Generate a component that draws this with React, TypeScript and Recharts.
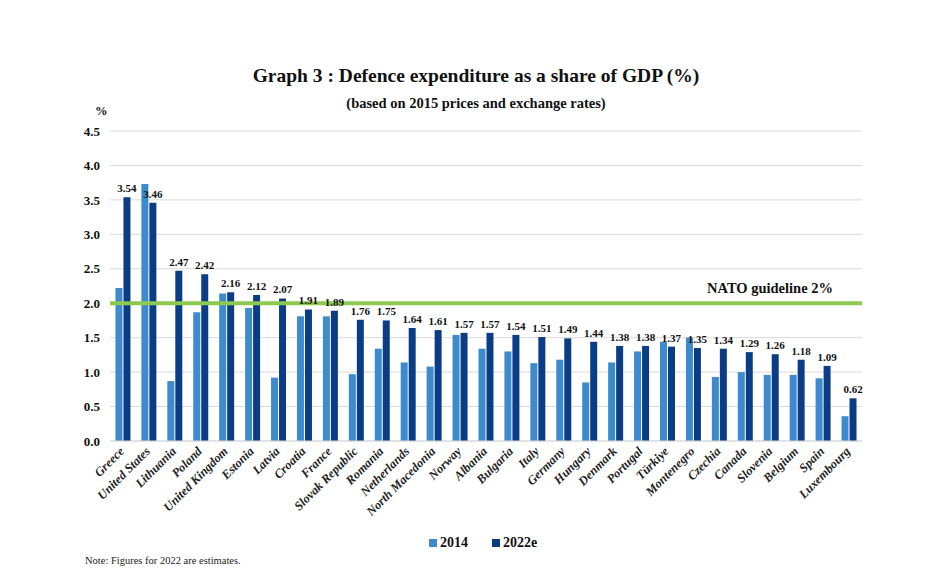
import React from "react"
import { BarChart, Bar, XAxis, YAxis, CartesianGrid, ReferenceLine, LabelList } from "recharts"

const countries = [
  "Greece", "United States", "Lithuania", "Poland", "United Kingdom", "Estonia", "Latvia",
  "Croatia", "France", "Slovak Republic", "Romania", "Netherlands", "North Macedonia", "Norway",
  "Albania", "Bulgaria", "Italy", "Germany", "Hungary", "Denmark", "Portugal", "Türkiye",
  "Montenegro", "Czechia", "Canada", "Slovenia", "Belgium", "Spain", "Luxembourg",
]

const values2014 = [
  2.22, 3.73, 0.87, 1.87, 2.14, 1.93, 0.92, 1.81, 1.81, 0.97, 1.34, 1.14, 1.08, 1.54,
  1.34, 1.30, 1.13, 1.18, 0.85, 1.14, 1.30, 1.44, 1.50, 0.93, 1.00, 0.96, 0.96, 0.91, 0.36,
]

const values2022 = [
  3.54, 3.46, 2.47, 2.42, 2.16, 2.12, 2.07, 1.91, 1.89, 1.76, 1.75, 1.64, 1.61, 1.57,
  1.57, 1.54, 1.51, 1.49, 1.44, 1.38, 1.38, 1.37, 1.35, 1.34, 1.29, 1.26, 1.18, 1.09, 0.62,
]

const yTicks = [0, 0.5, 1, 1.5, 2, 2.5, 3, 3.5, 4, 4.5]

const data = countries.map((name, i) => ({ name, y2014: values2014[i], y2022: values2022[i] }))

const serif = "'Liberation Serif', 'DejaVu Serif', serif"
const light = "#3d8bcd"
const dark = "#0b3d86"

function CountryTick({ x, y, payload }: any) {
  return (
    <text
      x={x + 2}
      y={y + 3}
      transform={`rotate(-45 ${x + 2} ${y + 3})`}
      textAnchor="end"
      fontFamily={serif}
      fontSize={12.5}
      fontStyle="italic"
      fontWeight="bold"
      fill="#222"
    >
      {payload.value}
    </text>
  )
}

function NatoLabel(props: any) {
  const vb = props.viewBox
  return (
    <text
      x={vb.x + vb.width - 29}
      y={vb.y - 10}
      textAnchor="end"
      fontFamily={serif}
      fontSize={14.5}
      fontWeight="bold"
      fill="#111"
    >
      NATO guideline 2%
    </text>
  )
}

export default function App() {
  return (
    <div style={{ position: "absolute", left: 0, top: 0, width: 952, height: 576, background: "#fff", fontFamily: serif }}>
      <div style={{ position: "absolute", top: 65, left: 0, width: 952, textAlign: "center", fontSize: 19.5, fontWeight: "bold", color: "#111" }}>
        Graph 3 : Defence expenditure as a share of GDP (%)
      </div>
      <div style={{ position: "absolute", top: 95, left: 0, width: 952, textAlign: "center", fontSize: 14.5, fontWeight: "bold", color: "#111" }}>
        (based on 2015 prices and exchange rates)
      </div>
      <div style={{ position: "absolute", top: 104, left: 95, fontSize: 12.5, fontWeight: "bold", color: "#111" }}>%</div>
      <div style={{ position: "absolute", top: 535, left: 0, width: 952, display: "flex", justifyContent: "center", gap: 24, fontSize: 14, fontWeight: "bold", color: "#111", paddingLeft: 14, boxSizing: "border-box" }}>
        <span style={{ display: "flex", alignItems: "center", gap: 3 }}>
          <span style={{ width: 8, height: 8, background: light, display: "inline-block" }} />
          2014
        </span>
        <span style={{ display: "flex", alignItems: "center", gap: 3 }}>
          <span style={{ width: 8, height: 8, background: dark, display: "inline-block" }} />
          2022e
        </span>
      </div>
      <div style={{ position: "absolute", top: 555, left: 85, fontSize: 10.5, color: "#222" }}>
        Note: Figures for 2022 are estimates.
      </div>
      <BarChart
        width={952}
        height={576}
        data={data}
        margin={{ top: 131, right: 90, bottom: 45, left: 70 }}
        barGap={1}
        barCategoryGap="21%"
      >
        <CartesianGrid vertical={false} stroke="#d9d9d9" />
        <XAxis
          dataKey="name"
          interval={0}
          tick={<CountryTick />}
          tickLine={false}
          axisLine={{ stroke: "#d9d9d9" }}
          height={90}
        />
        <YAxis
          domain={[0, 4.5]}
          ticks={yTicks}
          width={40}
          axisLine={false}
          tickLine={false}
          tickMargin={4}
          tickFormatter={(v: number) => v.toFixed(1)}
          tick={{ fontFamily: serif, fontSize: 13, fontWeight: "bold", fill: "#111" }}
        />
        <Bar dataKey="y2014" name="2014" fill={light} isAnimationActive={false} />
        <Bar dataKey="y2022" name="2022e" fill={dark} isAnimationActive={false}>
          <LabelList
            dataKey="y2022"
            position="top"
            offset={5}
            formatter={(v: any) => Number(v).toFixed(2)}
            style={{ fontFamily: serif, fontSize: 11, fontWeight: "bold", fill: "#111" }}
          />
        </Bar>
        <ReferenceLine y={2} stroke="#8dc94f" strokeWidth={4} label={NatoLabel} />
      </BarChart>
    </div>
  )
}
